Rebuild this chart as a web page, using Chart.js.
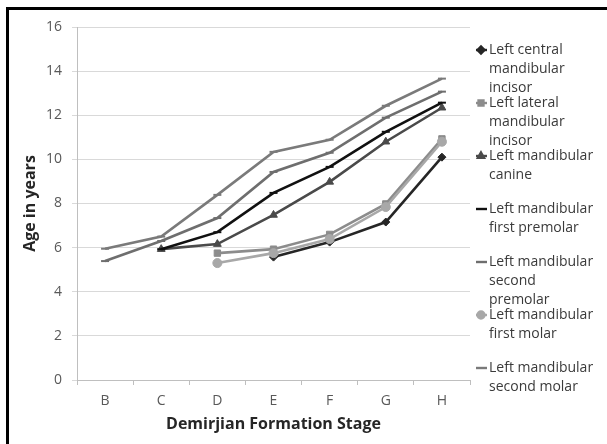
<!DOCTYPE html>
<html><head><meta charset="utf-8">
<script src="https://cdn.jsdelivr.net/npm/chart.js@4/dist/chart.umd.min.js"></script>
<style>html,body{margin:0;padding:0;background:#fff}#wrap{width:607px;height:444px;position:relative}</style>
</head><body><div id="wrap"><canvas id="c" width="607" height="444"></canvas></div>
<script>
const stages = ["B","C","D","E","F","G","H"];
const centralIncisor = [null,null,null,5.57,6.25,7.16,10.1];
const lateralIncisor = [null,null,5.75,5.93,6.6,7.98,10.93];
const canine = [null,5.93,6.16,7.48,8.98,10.8,12.34];
const firstPremolar = [null,5.93,6.7,8.48,9.66,11.25,12.57];
const secondPremolar = [5.39,6.3,7.34,9.43,10.3,11.89,13.07];
const firstMolar = [null,null,5.3,5.75,6.39,7.84,10.8];
const secondMolar = [5.95,6.5,8.39,10.34,10.89,12.43,13.66];
const yMin = 0, yMax = 16, yStep = 2;
const legendLabels = [
  ["Left central","mandibular","incisor"],
  ["Left lateral","mandibular","incisor"],
  ["Left mandibular","canine"],
  ["Left mandibular","first premolar"],
  ["Left mandibular","second","premolar"],
  ["Left mandibular","first molar"],
  ["Left mandibular","second molar"]
];
const seriesValues = [centralIncisor,lateralIncisor,canine,firstPremolar,secondPremolar,firstMolar,secondMolar];
const colors = ["#262626","#8c8c8c","#4a4a4a","#111111","#6e6e6e","#a8a8a8","#7a7a7a"];
const styles = ["rectRot","rect","triangle","line","line","circle","line"];
const radii = [4,4.5,4.5,4,4,4.5,4];

const datasets = seriesValues.map((v,i)=>({
  label: legendLabels[i].join(" "),
  data: v,
  borderColor: colors[i],
  backgroundColor: colors[i],
  pointBackgroundColor: colors[i],
  pointBorderColor: colors[i],
  pointStyle: styles[i],
  pointRadius: radii[i],
  pointBorderWidth: styles[i]==="line"?2:1,
  borderWidth: 2.6,
  tension: 0,
  spanGaps: false,
  order: 7-i
}));

const frame = {
  id:'frame',
  beforeDraw(chart){
    const ctx = chart.ctx;
    ctx.save();
    ctx.fillStyle = '#fff';
    ctx.fillRect(0,0,chart.width,chart.height);
    ctx.fillStyle = '#000';
    ctx.fillRect(6,7,chart.width-6,3);
    ctx.fillRect(6,7,3,chart.height-7);
    ctx.restore();
  }
};

const legendPlugin = {
  id:'sideLegend',
  afterDraw(chart){
    const ctx = chart.ctx;
    ctx.save();
    ctx.font = '14px "Open Sans"';
    ctx.textBaseline = 'middle';
    ctx.textAlign = 'left';
    chart.data.datasets.forEach((ds,i)=>{
      const y0 = 50 + i*53;
      const mx = 481;
      ctx.strokeStyle = ds.borderColor;
      ctx.lineWidth = 2.4;
      ctx.beginPath(); ctx.moveTo(476,y0); ctx.lineTo(487,y0); ctx.stroke();
      if (ds.pointStyle !== 'line') {
        ctx.fillStyle = ds.pointBackgroundColor;
        Chart.helpers.drawPoint(ctx,{pointStyle:ds.pointStyle,radius:3.5,borderWidth:1,rotation:0},mx,y0);
      }
      ctx.fillStyle = '#3a3a3a';
      legendLabels[i].forEach((t,j)=>{
        ctx.fillText(t, 489, y0 + j*19);
      });
    });
    ctx.restore();
  }
};

new Chart(document.getElementById('c'),{
  type:'line',
  data:{labels:stages,datasets},
  plugins:[frame,legendPlugin],
  options:{
    responsive:false,
    animation:false,
    devicePixelRatio:1,
    layout:{padding:{left:0,top:27,right:137,bottom:0}},
    plugins:{legend:{display:false},tooltip:{enabled:false}},
    scales:{
      x:{
        offset:true,
        grid:{offset:true,drawOnChartArea:false,drawTicks:true,tickLength:5,color:'#bfbfbf'},
        border:{color:'#bfbfbf',width:1},
        ticks:{color:'#595959',font:{family:'"Open Sans"',size:14},padding:8,maxRotation:0},
        title:{display:true,text:'Demirjian Formation Stage',color:'#262626',font:{family:'"Open Sans"',size:16,weight:'bold'},padding:{top:0,bottom:10}},
        afterFit(s){s.height=64;}
      },
      y:{
        min:yMin,max:yMax,
        grid:{color:'#d9d9d9',tickLength:5,drawTicks:true},
        border:{color:'#bfbfbf',width:1},
        ticks:{stepSize:yStep,color:'#595959',font:{family:'"Open Sans"',size:14},padding:10},
        title:{display:true,text:'Age in years',color:'#262626',font:{family:'"Open Sans"',size:16,weight:'bold'},padding:{top:21,bottom:0}},
        afterFit(s){s.width=77;}
      }
    }
  }
});
</script></body></html>
